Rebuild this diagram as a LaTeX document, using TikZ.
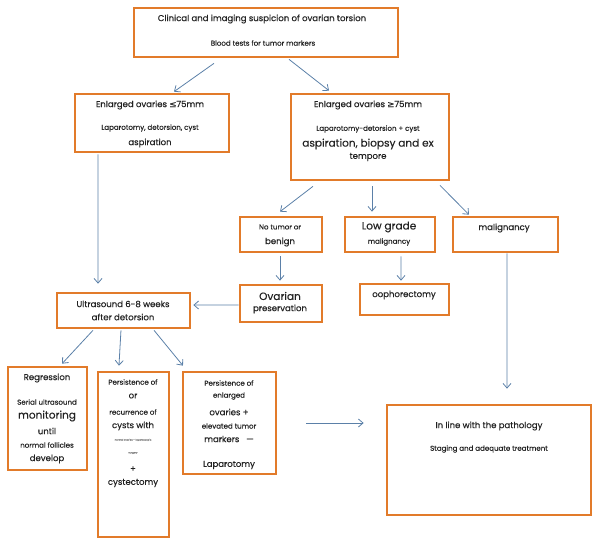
\documentclass[tikz,border=0pt]{standalone}
\usepackage{fontspec}
\setmainfont{Poppins}[FakeBold=0.4]
\newfontfamily\symfont{DejaVu Sans}[FakeBold=0.4]
\usetikzlibrary{arrows.meta,fit}
\definecolor{boxorange}{HTML}{E27B2A}
\definecolor{arrowblue}{HTML}{5B80A8}
\definecolor{inkgray}{HTML}{222222}
\tikzset{
    box/.style={draw=boxorange, line width=2pt, inner sep=0pt},
    arr/.style={draw=arrowblue, line width=0.6pt,
        -{Straight Barb[length=3.5pt,width=6pt]}},
    txt/.style={inner sep=0pt, text=inkgray},
    tbig/.style={txt, font=\fontsize{7.9}{8}\selectfont},
    tmed/.style={txt, font=\fontsize{6.4}{7}\selectfont},
    tsml/.style={txt, font=\fontsize{5.3}{6}\selectfont},
    ttiny/.style={txt, text=gray, font=\fontsize{1.8}{2}\selectfont},
}
\begin{document}
\begin{tikzpicture}[x=0.75pt, y=-0.75pt]
    \useasboundingbox (0,0) rectangle (599,542);
    % boxes
    \node[box, fit={(134,8) (398,57)}] (top) {};
    \node[box, fit={(75,94) (229,152)}] (small) {};
    \node[box, fit={(291,94) (449,180)}] (large) {};
    \node[box, fit={(240,217) (322,252)}] (benign) {};
    \node[box, fit={(345,217) (435,252)}] (lowgr) {};
    \node[box, fit={(453,217) (558,252)}] (malig) {};
    \node[box, fit={(240,285) (322,322)}] (preserve) {};
    \node[box, fit={(360,284) (449,315)}] (ooph) {};
    \node[box, fit={(57,293) (190,328)}] (us) {};
    \node[box, fit={(8,367) (87,470)}] (regr) {};
    \node[box, fit={(98,372) (169,537)}] (persist) {};
    \node[box, fit={(183,372) (276,474)}] (enlarged) {};
    \node[box, fit={(387,405) (591,515)}] (inline) {};

    % texts
    \node[tmed] (topA) at (262,19) {Clinical and imaging suspicion of ovarian torsion};
    \node[tsml] (topB) at (263,43) {Blood tests for tumor markers};
    \node[tmed] (smallA) at (150,105) {Enlarged ovaries {\symfont ≤}75mm};
    \node[tsml] (smallB) at (150,128) {Laparotomy, detorsion, cyst};
    \node[tmed] (smallC) at (150,143) {aspiration};
    \node[tmed] (largeA) at (368,105) {Enlarged ovaries {\symfont ≥}75mm};
    \node[tsml] (largeB) at (368,129) {Laparotomy-detorsion + cyst};
    \node[tbig] (largeC) at (368,144) {aspiration, biopsy and ex};
    \node[tmed] (largeD) at (368,157) {tempore};
    \node[tsml] (benignA) at (280,227) {No tumor or};
    \node[tmed] (benignB) at (280,242) {benign};
    \node[tbig] (lowgrA) at (389,227) {Low grade};
    \node[tsml] (lowgrB) at (389,242) {malignancy};
    \node[tmed] (maligA) at (504,228) {malignancy};
    \node[tbig] (preserveA) at (280,296) {Ovarian};
    \node[tmed] (preserveB) at (280,309) {preservation};
    \node[tmed] (oophA) at (404,295) {oophorectomy};
    \node[tmed] (usA) at (123,304) {Ultrasound 6-8 weeks};
    \node[tmed] (usB) at (123,317) {after detorsion};
    \node[tmed] (regrA) at (47,378) {Regression};
    \node[tsml] (regrB) at (47,402) {Serial ultrasound};
    \node[tbig] (regrC) at (47,416) {monitoring};
    \node[tmed] (regrD) at (47,431) {until};
    \node[tsml] (regrE) at (47,445) {normal follicles};
    \node[tmed] (regrF) at (47,459) {develop};
    \node[tsml] (persistA) at (133,382) {Persistence of};
    \node[tmed] (persistB) at (133,396) {or};
    \node[tsml] (persistC) at (133,412) {recurrence of};
    \node[tmed] (persistD) at (133,426) {cysts with};
    \node[ttiny] (persistE) at (133,440) {normal ovaries -- laparoscopic};
    \node[ttiny] (persistF) at (133,453) {surgery};
    \node[tmed] (persistG) at (133,469) {+};
    \node[tmed] (persistH) at (133,483) {cystectomy};
    \node[tsml] (enlargedA) at (229,383) {Persistence of};
    \node[tsml] (enlargedB) at (229,396) {enlarged};
    \node[tmed] (enlargedC) at (229,412) {ovaries +};
    \node[tsml] (enlargedD) at (229,426) {elevated tumor};
    \node[tmed] (enlargedE) at (229,439) {markers \ \ ---};
    \node[tmed] (enlargedF) at (229,465) {Laparotomy};
    \node[tmed] (inlineA) at (489,426) {In line with the pathology};
    \node[tsml] (inlineB) at (489,449) {Staging and adequate treatment};

    % connectors
    \draw[arr] ([xshift=-39pt,yshift=-3.75pt]top.south) -- ([xshift=16.5pt,yshift=0.75pt]small.north);
    \draw[arr] ([xshift=17.25pt,yshift=-0.75pt]top.south) -- ([xshift=-30.75pt,yshift=1.5pt]large.north);
    \draw[arr] ([xshift=-40.5pt,yshift=-0.75pt]small.south) -- ([xshift=-19.1pt,yshift=6pt]us.north);
    \draw[arr] ([xshift=-42.75pt,yshift=-3.75pt]large.south) -- ([xshift=-0.75pt,yshift=3pt]benign.north);
    \draw[arr] ([xshift=1.5pt,yshift=-3.75pt]large.south) -- ([xshift=-13.5pt,yshift=3pt]lowgr.north);
    \draw[arr] ([xshift=52.5pt,yshift=-3pt]large.south) -- ([xshift=-27.4pt,yshift=0.75pt]malig.north);
    \draw[arr] ([xshift=-0.75pt,yshift=-2.25pt]benign.south) -- ([xshift=-0.75pt,yshift=2.25pt]preserve.north);
    \draw[arr] ([xshift=8.25pt,yshift=-2.25pt]lowgr.south) -- ([xshift=-2.6pt,yshift=1.5pt]ooph.north);
    \draw[arr] ([xshift=1.1pt]malig.south) -- ([xshift=13.5pt,yshift=11.25pt]inline.north);
    \draw[arr] ([yshift=-1.1pt]preserve.west) -- ([xshift=1.5pt,yshift=4.1pt]us.east);
    \draw[arr] ([xshift=-22.9pt,yshift=-0.75pt]us.south) -- ([xshift=10.9pt,yshift=1.5pt]regr.north);
    \draw[arr] ([xshift=-1.9pt,yshift=-0.75pt]us.south) -- ([xshift=-10.9pt,yshift=3.75pt]persist.north);
    \draw[arr] ([xshift=22.9pt,yshift=-0.75pt]us.south) -- ([xshift=-34.9pt,yshift=3.75pt]enlarged.north);
    \draw[arr] ([xshift=21.75pt]enlarged.east) -- ([xshift=-16.5pt,yshift=27.75pt]inline.west);
\end{tikzpicture}
\end{document}
